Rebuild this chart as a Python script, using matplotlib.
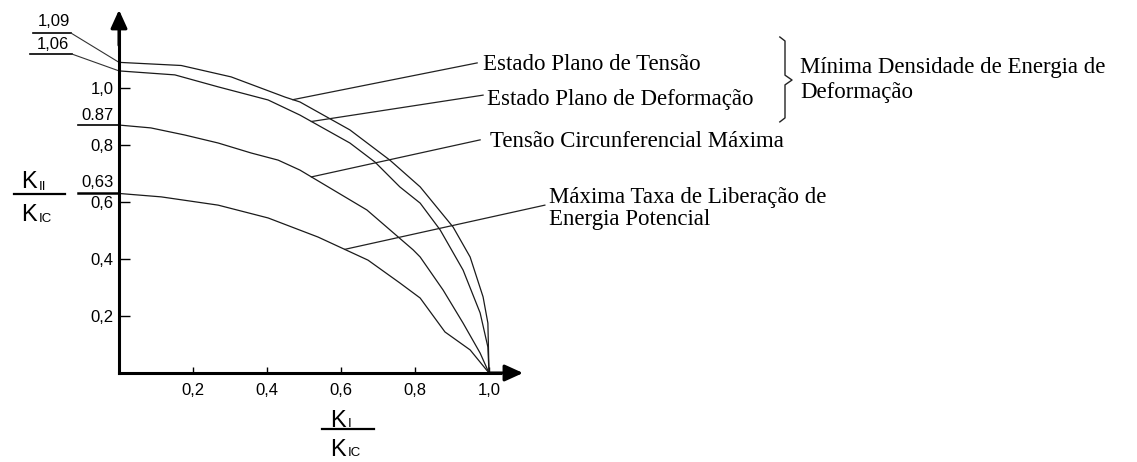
import matplotlib.pyplot as plt
import numpy as np

# curvas: K_II/K_IC em funcao de K_I/K_IC
tensao_x = [0, 0.168, 0.303, 0.449, 0.489, 0.624, 0.732, 0.814, 0.903, 0.949, 0.984, 0.997, 1.0]
tensao_y = [1.09, 1.079, 1.039, 0.968, 0.951, 0.853, 0.747, 0.653, 0.512, 0.407, 0.267, 0.175, 0.0]
deform_x = [0, 0.151, 0.268, 0.403, 0.489, 0.624, 0.692, 0.759, 0.814, 0.868, 0.930, 0.976, 0.997, 1.0]
deform_y = [1.06, 1.046, 1.004, 0.958, 0.905, 0.807, 0.740, 0.653, 0.596, 0.502, 0.361, 0.211, 0.091, 0.0]
circ_x = [0, 0.086, 0.178, 0.268, 0.357, 0.430, 0.489, 0.670, 0.795, 0.814, 0.876, 0.930, 0.976, 1.0]
circ_y = [0.87, 0.860, 0.835, 0.807, 0.772, 0.747, 0.712, 0.572, 0.432, 0.407, 0.291, 0.175, 0.070, 0.0]
energ_x = [0, 0.114, 0.268, 0.403, 0.538, 0.673, 0.759, 0.814, 0.881, 0.949, 1.0]
energ_y = [0.63, 0.618, 0.589, 0.544, 0.477, 0.396, 0.316, 0.263, 0.144, 0.081, 0.0]

x_ticks = [0.2, 0.4, 0.6, 0.8, 1.0]
x_labels = ['0,2', '0,4', '0,6', '0,8', '1,0']
y_ticks = [0.2, 0.4, 0.6, 0.8, 1.0]
y_labels = ['0,2', '0,4', '0,6', '0,8', '1,0']

nomes = ['Estado Plano de Tensão', 'Estado Plano de Deformação',
         'Tensão Circunferencial Máxima',
         'Máxima Taxa de Liberação de\nEnergia Potencial']
grupo = 'Mínima Densidade de Energia de\nDeformação'

# layout: pixel da origem e escala (px por unidade)
X0, SX = 119, 370
Y0, SY = 373, 285
W, H = 1137, 462

SERIF = 'Liberation Serif'
SANS = 'Liberation Sans'

fig = plt.figure(figsize=(W / 100, H / 100), dpi=100)
ax = fig.add_axes([0, 0, 1, 1])
ax.set_xlim(-X0 / SX, (W - X0) / SX)
ax.set_ylim((Y0 - H) / SY, Y0 / SY)

for s in ['top', 'right']:
    ax.spines[s].set_visible(False)
ax.spines['left'].set_position(('data', 0))
ax.spines['bottom'].set_position(('data', 0))
ax.spines['left'].set_bounds(0, 1.2)
ax.spines['bottom'].set_bounds(0, 1.03)
ax.spines['left'].set_linewidth(2.2)
ax.spines['bottom'].set_linewidth(2.2)

ax.set_xticks(x_ticks, x_labels, fontfamily=SANS, fontsize=12)
ax.set_yticks(y_ticks, y_labels, fontfamily=SANS, fontsize=12)
ax.tick_params(axis='x', direction='in', length=4, width=1, pad=7)
ax.tick_params(axis='y', direction='in', length=8, width=1, pad=4)

# setas dos eixos
head = dict(arrowstyle='-|>,head_length=0.55,head_width=0.25', color='k',
            lw=2.2, shrinkA=0, shrinkB=0, mutation_scale=20)
ax.annotate('', xy=(0, 1.274), xytext=(0, 1.15), arrowprops=head)
ax.annotate('', xy=(1.092, 0), xytext=(1.0, 0), arrowprops=head)

curvas = [(tensao_x, tensao_y), (deform_x, deform_y),
          (circ_x, circ_y), (energ_x, energ_y)]
for cx, cy in curvas:
    ax.plot(cx, cy, color='#1a1a1a', lw=0.9)

# valores iniciais marcados no eixo vertical
ax.text(-0.176, 1.232, '1,09', fontfamily=SANS, fontsize=12, ha='center', va='center')
ax.plot([-0.232, -0.130], [1.193, 1.193], color='k', lw=1.2)
ax.plot([-0.130, 0], [1.193, tensao_y[0]], color='#333', lw=0.8)
ax.text(-0.178, 1.151, '1,06', fontfamily=SANS, fontsize=12, ha='center', va='center')
ax.plot([-0.240, -0.127], [1.119, 1.119], color='k', lw=1.2)
ax.plot([-0.127, 0], [1.119, deform_y[0]], color='#333', lw=0.8)
ax.text(-0.059, 0.902, '0.87', fontfamily=SANS, fontsize=12, ha='center', va='center')
ax.plot([-0.111, 0], [circ_y[0], circ_y[0]], color='k', lw=1.2)
ax.text(-0.059, 0.667, '0,63', fontfamily=SANS, fontsize=12, ha='center', va='center')
ax.plot([-0.111, 0], [energ_y[0], energ_y[0]], color='k', lw=1.8)

# legendas com linhas de chamada
x_ch = [0.47, 0.52, 0.52, 0.61]
pos_txt = [(0.984, 1.081), (0.995, 0.958), (1.003, 0.811), (1.162, 0.577)]
fim_ch = [(0.968, 1.088), (0.984, 0.975), (0.976, 0.818), (1.151, 0.589)]
for (cx, cy), x0, nome, p, f in zip(curvas, x_ch, nomes, pos_txt, fim_ch):
    y0 = np.interp(x0, cx, cy)
    ax.plot([x0, f[0]], [y0, f[1]], color='#222', lw=0.9)
    ax.text(p[0], p[1], nome, fontfamily=SERIF, fontsize=16.5, ha='left',
            va='center', linespacing=1.1)

# chave
bx = [1.786, 1.800, 1.800, 1.819, 1.800, 1.800, 1.786]
by = [1.179, 1.165, 1.045, 1.028, 1.011, 0.895, 0.881]
ax.plot(bx, by, color='#222', lw=1.0)
ax.text(1.841, 1.029, grupo, fontfamily=SERIF, fontsize=16.5, ha='left',
        va='center', linespacing=1.25)

# rotulos em fracao
def fracao(xc, yl, meia, sub_cima, sub_baixo, yb_cima, yb_baixo, desce):
    ax.plot([xc - meia, xc + meia], [yl, yl], color='k', lw=1.6)
    for sub, yb in [(sub_cima, yb_cima), (sub_baixo, yb_baixo)]:
        ax.text(xc - 0.006, yb, 'K', fontfamily=SANS, fontsize=17,
                ha='right', va='baseline')
        ax.text(xc - 0.001, yb - desce, sub, fontfamily=SANS, fontsize=9.5,
                ha='left', va='baseline')

fracao(-0.215, 0.628, 0.068, 'II', 'IC', 0.649, 0.535, 0.006)
fracao(0.619, -0.196, 0.070, 'I', 'IC', -0.189, -0.290, 0.0)

fig.savefig('out.png', dpi=100, facecolor='white')
